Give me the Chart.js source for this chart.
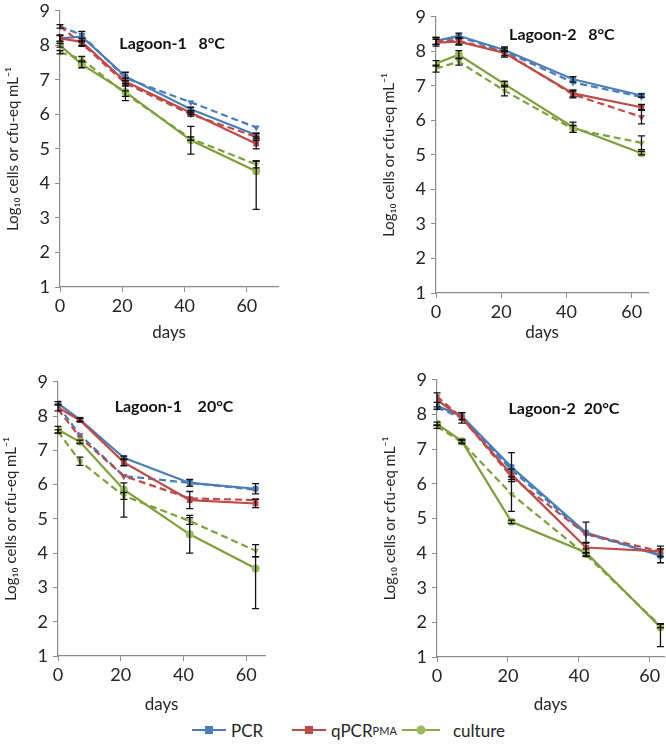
<!DOCTYPE html>
<html>
<head>
<meta charset="utf-8">
<script src="https://cdn.jsdelivr.net/npm/chart.js@4.4.1/dist/chart.umd.min.js"></script>
<style>
  body { margin: 0; width: 666px; height: 750px; background: #fff; position: relative; overflow: hidden; font-family: Lato, "DejaVu Sans", sans-serif; color: #262626; }
  canvas { position: absolute; }
  .lg { position: absolute; top: 719px; height: 22px; display: flex; align-items: center; font-size: 17px; }
  .lg svg { margin-right: 5px; }
  .lg sub { font-size: 11px; vertical-align: -4px; }
</style>
</head>
<body>

<div class="lg" style="left:192px"><svg width="34" height="12"><line x1="0" y1="6" x2="34" y2="6" stroke="#4a7ebb" stroke-width="2"/><rect x="13" y="2" width="8" height="8" fill="#4a7ebb"/></svg>PCR</div>
<div class="lg" style="left:292px"><svg width="34" height="12"><line x1="0" y1="6" x2="34" y2="6" stroke="#be4b48" stroke-width="2"/><rect x="13" y="2" width="8" height="8" fill="#be4b48"/></svg>qPCR<sub>PMA</sub></div>
<div class="lg" style="left:402px"><svg width="38" height="12"><line x1="0" y1="6" x2="38" y2="6" stroke="#8aab45" stroke-width="2"/><circle cx="19" cy="6" r="4.5" fill="#9bbb59"/></svg><span style="margin-left:8px">culture</span></div>

<script>
const days = [0, 7, 21, 42, 63];
const dayTicks = [0, 20, 40, 60];

// Lagoon-1, 8°C
const l1c8Pcr       = [8.2, 8.25, 7.1, 6.15, 5.4];
const l1c8PcrDash   = [8.55, 8.3, 7.05, 6.35, 5.62];
const l1c8Qpcr      = [8.2, 8.1, 6.95, 6.05, 5.15];
const l1c8QpcrDash  = [8.55, 8.05, 6.9, 6.0, 5.35];
const l1c8Cult      = [8.0, 7.45, 6.65, 5.25, 4.35];
const l1c8CultDash  = [7.8, 7.6, 6.6, 5.3, 4.55];
const l1c8PcrErr    = [0.08, 0.15, 0.12, 0.05, 0.05];
const l1c8QpcrErr   = [0.1, 0.1, 0.1, 0.05, 0.15];
const l1c8CultErr   = [0.05, 0.1, 0.25, 0.4, [1.1, 0.3]];
const l1c8DashErr   = [0.05, 0.08, 0.08, 0.05, 0.1];

// Lagoon-2, 8°C
const l2c8Pcr       = [8.3, 8.45, 8.04, 7.19, 6.72];
const l2c8PcrDash   = [8.25, 8.42, 8.0, 7.1, 6.68];
const l2c8Qpcr      = [8.25, 8.28, 7.95, 6.78, 6.38];
const l2c8QpcrDash  = [8.3, 8.3, 7.98, 6.75, 6.1];
const l2c8Cult      = [7.65, 7.9, 7.05, 5.8, 5.05];
const l2c8CultDash  = [7.5, 7.7, 6.86, 5.75, 5.35];
const l2c8PcrErr    = [0.1, 0.08, 0.05, 0.08, 0.05];
const l2c8QpcrErr   = [0.1, 0.1, 0.08, 0.1, 0.08];
const l2c8CultErr   = [0.08, 0.12, 0.08, 0.15, 0.05];
const l2c8DashErr   = [0.1, 0.1, 0.15, 0.1, 0.2];

// Lagoon-1, 20°C
const l1c20Pcr      = [8.37, 7.9, 6.78, 6.05, 5.88];
const l1c20PcrDash  = [8.3, 7.45, 6.25, 6.05, 5.85];
const l1c20Qpcr     = [8.25, 7.88, 6.65, 5.55, 5.45];
const l1c20QpcrDash = [8.2, 7.38, 6.25, 5.6, 5.55];
const l1c20Cult     = [7.6, 7.25, 5.85, 4.55, 3.55];
const l1c20CultDash = [7.55, 6.68, 5.67, 4.94, 4.07];
const l1c20PcrErr   = [0.05, 0.05, 0.05, 0.1, 0.15];
const l1c20QpcrErr  = [0.1, 0.05, 0.1, 0.25, 0.12];
const l1c20CultErr  = [0.1, 0.05, [0.8, 0.2], 0.55, [1.17, 0.35]];
const l1c20DashErr  = [0.05, 0.12, 0.1, 0.1, 0.18];

// Lagoon-2, 20°C
const l2c20Pcr      = [8.25, 7.95, 6.48, 4.59, 3.92];
const l2c20PcrDash  = [8.2, 7.9, 6.4, 4.55, 3.95];
const l2c20Qpcr     = [8.42, 7.9, 6.27, 4.16, 4.05];
const l2c20QpcrDash = [8.52, 7.9, 6.2, 4.55, 4.05];
const l2c20Cult     = [7.73, 7.23, 4.9, 4.02, 1.86];
const l2c20CultDash = [7.65, 7.2, 5.7, 3.95, 1.9];
const l2c20PcrErr   = [0.1, 0.1, 0.42, 0.3, 0.2];
const l2c20QpcrErr  = [0.2, 0.15, 0.15, 0.15, 0.15];
const l2c20CultErr  = [0.05, 0.05, 0.05, 0.1, [0.56, 0.1]];
const l2c20DashErr  = [0.05, 0.05, 0.5, 0.05, 0.05];

const BLUE = '#4a7ebb', RED = '#be4b48', GREEN = '#7f9f3d', GREEN_PT = '#9bbb59';
const FONT = 'Lato, "DejaVu Sans", sans-serif';
const TXT = '#262626', AXIS = '#8c8c8c';

// layout of each panel: plot area box in page pixels
const panels = [
  { title: 'Lagoon-1   8°C', at: [36, 8.05], box: { l: 60, t: 9, r: 278, b: 287 }, xMax: 70, daysY: 333,
    s: [l1c8Pcr, l1c8PcrDash, l1c8Qpcr, l1c8QpcrDash, l1c8Cult, l1c8CultDash],
    e: [l1c8PcrErr, null, l1c8QpcrErr, l1c8DashErr, l1c8CultErr, l1c8DashErr] },
  { title: 'Lagoon-2   8°C', at: [38.6, 8.48], box: { l: 436, t: 15, r: 648, b: 293 }, xMax: 65, daysY: 333,
    s: [l2c8Pcr, l2c8PcrDash, l2c8Qpcr, l2c8QpcrDash, l2c8Cult, l2c8CultDash],
    e: [l2c8PcrErr, null, l2c8QpcrErr, l2c8DashErr, l2c8CultErr, l2c8DashErr] },
  { title: 'Lagoon-1    20°C', at: [37, 8.27], box: { l: 58, t: 380, r: 265, b: 656 }, xMax: 66, daysY: 705,
    s: [l1c20Pcr, l1c20PcrDash, l1c20Qpcr, l1c20QpcrDash, l1c20Cult, l1c20CultDash],
    e: [l1c20PcrErr, null, l1c20QpcrErr, null, l1c20CultErr, l1c20DashErr] },
  { title: 'Lagoon-2  20°C', at: [35.8, 8.17], box: { l: 437, t: 378, r: 664, b: 657 }, xMax: 64, daysY: 705,
    s: [l2c20Pcr, l2c20PcrDash, l2c20Qpcr, l2c20QpcrDash, l2c20Cult, l2c20CultDash],
    e: [l2c20PcrErr, null, l2c20QpcrErr, null, l2c20CultErr, l2c20DashErr] }
];

const errorBars = {
  id: 'errorBars',
  afterDatasetsDraw(chart) {
    const { ctx, scales: { x, y } } = chart;
    ctx.save();
    ctx.strokeStyle = '#111';
    ctx.lineWidth = 1.3;
    chart.data.datasets.forEach(ds => {
      if (!ds.errors) return;
      ds.data.forEach((p, i) => {
        const e = ds.errors[i];
        const lo = Array.isArray(e) ? e[0] : e;
        const hi = Array.isArray(e) ? e[1] : e;
        const px = x.getPixelForValue(p.x);
        const y1 = y.getPixelForValue(p.y - lo), y2 = y.getPixelForValue(p.y + hi);
        ctx.beginPath();
        ctx.moveTo(px, y1); ctx.lineTo(px, y2);
        ctx.moveTo(px - 3.5, y1); ctx.lineTo(px + 3.5, y1);
        ctx.moveTo(px - 3.5, y2); ctx.lineTo(px + 3.5, y2);
        ctx.stroke();
      });
    });
    ctx.restore();
  }
};

function labelPlugin(text, at) {
  return {
    id: 'panelLabel',
    afterDraw(chart) {
      const { ctx, scales: { x, y } } = chart;
      ctx.save();
      ctx.font = 'bold 16px ' + FONT;
      ctx.fillStyle = '#111';
      ctx.textAlign = 'center';
      ctx.textBaseline = 'middle';
      ctx.fillText(text, x.getPixelForValue(at[0]), y.getPixelForValue(at[1]));
      ctx.restore();
    }
  };
}

function line(vals, color, dashed, errs, ptColor, circle) {
  return {
    data: days.map((d, i) => ({ x: d, y: vals[i] })),
    errors: errs,
    borderColor: color,
    backgroundColor: ptColor || color,
    borderWidth: 2.2,
    borderDash: dashed ? [7, 4] : [],
    pointStyle: dashed ? 'triangle' : (circle ? 'circle' : 'rect'),
    rotation: dashed ? 180 : 0,
    pointRadius: 4,
    pointBorderWidth: 0,
    tension: 0
  };
}

panels.forEach(p => {
  const xAxisH = p.daysY + 14 - p.box.b;
  const cv = document.createElement('canvas');
  const w = p.box.r - p.box.l + 62 + 4, h = p.box.b - p.box.t + 14 + xAxisH;
  cv.width = w; cv.height = h;
  cv.style.left = (p.box.l - 62) + 'px';
  cv.style.top = (p.box.t - 14) + 'px';
  cv.style.width = w + 'px'; cv.style.height = h + 'px';
  document.body.appendChild(cv);

  new Chart(cv, {
    type: 'line',
    data: {
      datasets: [
        line(p.s[4], GREEN, false, p.e[4], GREEN_PT, true),
        line(p.s[5], GREEN, true, p.e[5], GREEN_PT),
        line(p.s[2], RED, false, p.e[2]),
        line(p.s[3], RED, true, p.e[3]),
        line(p.s[0], BLUE, false, p.e[0]),
        line(p.s[1], BLUE, true, p.e[1])
      ]
    },
    plugins: [errorBars, labelPlugin(p.title, p.at)],
    options: {
      responsive: false,
      animation: false,
      layout: { padding: { top: 14, right: 4, left: 0, bottom: 0 } },
      plugins: { legend: { display: false }, tooltip: { enabled: false } },
      scales: {
        x: {
          type: 'linear', min: 0, max: p.xMax,
          afterBuildTicks: s => { s.ticks = dayTicks.map(v => ({ value: v })); },
          afterFit: s => { s.height = xAxisH; },
          grid: { drawOnChartArea: false, tickLength: 5, color: AXIS },
          border: { color: AXIS, width: 1.2 },
          ticks: { padding: 3, color: TXT, font: { family: FONT, size: 18 } },
          title: { display: true, text: 'days', color: TXT, font: { family: FONT, size: 17 }, padding: { top: 4, bottom: 4 } }
        },
        y: {
          min: 1, max: 9,
          afterFit: s => { s.width = 62; },
          grid: { drawOnChartArea: false, tickLength: 5, color: AXIS },
          border: { color: AXIS, width: 1.2 },
          ticks: { stepSize: 1, padding: 5, color: TXT, font: { family: FONT, size: 18 } },
          title: { display: true, text: 'Log₁₀ cells or cfu-eq mL⁻¹', color: TXT, font: { family: FONT, size: 15 }, padding: { top: 6, bottom: 0 } }
        }
      }
    }
  });
});
</script>
</body>
</html>
